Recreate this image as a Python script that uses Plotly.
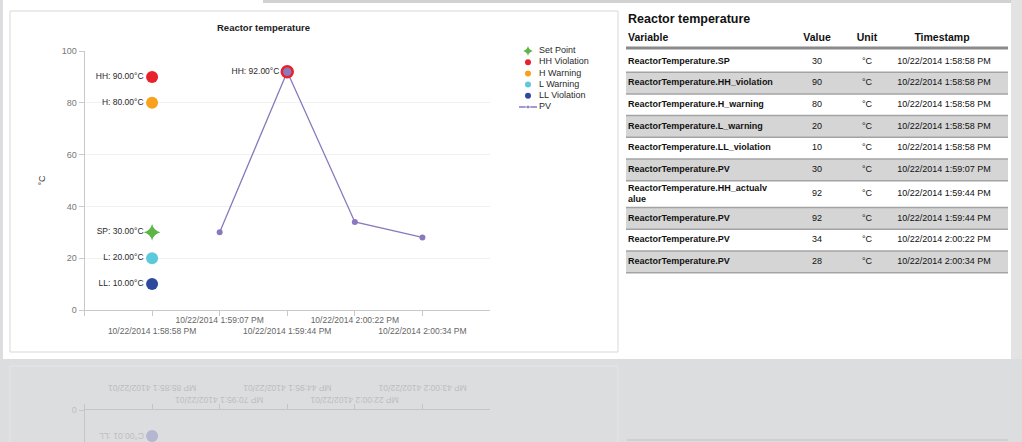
import plotly.graph_objects as go

W, H = 1022, 442
FONT = "Liberation Sans, Arial, sans-serif"

# ---------------- data ----------------
timestamps = [
    "10/22/2014 1:58:58 PM",
    "10/22/2014 1:59:07 PM",
    "10/22/2014 1:59:44 PM",
    "10/22/2014 2:00:22 PM",
    "10/22/2014 2:00:34 PM",
]
limit_keys = ["HH", "H", "SP", "L", "LL"]
limit_values = [90, 80, 30, 20, 10]
limit_time = "10/22/2014 1:58:58 PM"

pv_times = ["10/22/2014 1:59:07 PM", "10/22/2014 1:59:44 PM",
            "10/22/2014 2:00:22 PM", "10/22/2014 2:00:34 PM"]
pv_values = [30, 92, 34, 28]

hh_actual_time = "10/22/2014 1:59:44 PM"
hh_actual_value = 92

legend_labels = ["Set Point", "HH Violation", "H Warning", "L Warning", "LL Violation", "PV"]

table_title = "Reactor temperature"
table_headers = ["Variable", "Value", "Unit", "Timestamp"]
table_variables = [
    "ReactorTemperature.SP",
    "ReactorTemperature.HH_violation",
    "ReactorTemperature.H_warning",
    "ReactorTemperature.L_warning",
    "ReactorTemperature.LL_violation",
    "ReactorTemperature.PV",
    "ReactorTemperature.HH_actualv<br>alue",
    "ReactorTemperature.PV",
    "ReactorTemperature.PV",
    "ReactorTemperature.PV",
]
table_values = [30, 90, 80, 20, 10, 30, 92, 92, 34, 28]
table_units = ["°C"] * 10
table_timestamps = [
    "10/22/2014 1:58:58 PM", "10/22/2014 1:58:58 PM", "10/22/2014 1:58:58 PM",
    "10/22/2014 1:58:58 PM", "10/22/2014 1:58:58 PM", "10/22/2014 1:59:07 PM",
    "10/22/2014 1:59:44 PM", "10/22/2014 1:59:44 PM", "10/22/2014 2:00:22 PM",
    "10/22/2014 2:00:34 PM",
]

# ---------------- styles ----------------
limit_style = {
    "HH": dict(color="#e8222b", symbol="circle", size=12),
    "H": dict(color="#f7a11c", symbol="circle", size=12),
    "SP": dict(color="#5cb545", symbol="star-diamond", size=12),
    "L": dict(color="#5ccadb", symbol="circle", size=12),
    "LL": dict(color="#2d4a9f", symbol="circle", size=12),
}
legend_style = {
    "Set Point": dict(color="#5cb545", symbol="star-diamond", size=7),
    "HH Violation": dict(color="#e8222b", symbol="circle", size=6),
    "H Warning": dict(color="#f7a11c", symbol="circle", size=6),
    "L Warning": dict(color="#5ccadb", symbol="circle", size=6),
    "LL Violation": dict(color="#2d4a9f", symbol="circle", size=6),
}
PV_COLOR = "#8b79be"


def pxx(x):
    return x / W


def pxy(y):
    return 1 - y / H


def tindex(t):
    return timestamps.index(t)


fig = go.Figure()

# ---------------- main chart (x, y) ----------------
for k, v in zip(limit_keys, limit_values):
    st = limit_style[k]
    fig.add_trace(go.Scatter(
        x=[tindex(limit_time)], y=[v], mode="markers+text",
        marker=dict(color=st["color"], symbol=st["symbol"], size=st["size"], line=dict(width=0)),
        text=[f"{k}: {v:.2f}°C"], textposition="middle left",
        textfont=dict(size=8.5, color="#2a2a2a", family=FONT),
        showlegend=False, hoverinfo="skip", xaxis="x", yaxis="y"))

fig.add_trace(go.Scatter(
    x=[tindex(t) for t in pv_times], y=pv_values, mode="lines+markers",
    line=dict(color=PV_COLOR, width=1.3), marker=dict(color=PV_COLOR, size=6),
    showlegend=False, hoverinfo="skip", xaxis="x", yaxis="y"))

fig.add_trace(go.Scatter(
    x=[tindex(hh_actual_time)], y=[hh_actual_value], mode="markers+text",
    marker=dict(color=PV_COLOR, size=11, line=dict(color="#e8222b", width=2.5)),
    text=[f"HH: {hh_actual_value:.2f}°C"], textposition="middle left",
    textfont=dict(size=8.5, color="#2a2a2a", family=FONT),
    showlegend=False, hoverinfo="skip", xaxis="x", yaxis="y"))

# ---------------- reflection (x2, y2) ----------------
for k, v in zip(limit_keys, limit_values):
    fig.add_trace(go.Scatter(
        x=[tindex(limit_time)], y=[v], mode="markers",
        marker=dict(color="#b4b6d2", size=12, symbol=limit_style[k]["symbol"]),
        showlegend=False, hoverinfo="skip", xaxis="x2", yaxis="y2"))

# ---------------- legend (x3, y3) ----------------
for i, name in enumerate(legend_labels):
    if name == "PV":
        fig.add_trace(go.Scatter(
            x=[519, 528, 537], y=[i, i, i], mode="lines+markers",
            line=dict(color=PV_COLOR, width=1.5),
            marker=dict(color=PV_COLOR, size=[0, 4, 0]),
            showlegend=False, hoverinfo="skip", xaxis="x3", yaxis="y3"))
    else:
        st = legend_style[name]
        fig.add_trace(go.Scatter(
            x=[528], y=[i], mode="markers",
            marker=dict(color=st["color"], symbol=st["symbol"], size=st["size"]),
            showlegend=False, hoverinfo="skip", xaxis="x3", yaxis="y3"))
fig.add_trace(go.Scatter(
    x=[539] * len(legend_labels), y=list(range(len(legend_labels))), mode="text",
    text=legend_labels, textposition="middle right",
    textfont=dict(size=9, color="#2a2a2a", family=FONT),
    showlegend=False, hoverinfo="skip", xaxis="x3", yaxis="y3"))

# ---------------- table (x4, y4) ----------------
ROW_H = 21.7
TABLE_TOP = 50.5
T_X0, T_X1 = 626, 1008


def u(ypx):
    return (ypx - TABLE_TOP) / ROW_H


heights = [1 + 0.24 * v.count("<br>") for v in table_variables]
tops = []
acc = 0
for h in heights:
    tops.append(acc)
    acc += h
centers = [t + h / 2 for t, h in zip(tops, heights)]
fills = ["#ffffff" if i % 2 == 0 else "#d5d5d5" for i in range(len(table_variables))]

fig.add_trace(go.Bar(
    y=centers, x=[T_X1 - T_X0] * len(centers), base=[T_X0] * len(centers),
    width=heights, orientation="h", marker=dict(color=fills, line=dict(width=0)),
    showlegend=False, hoverinfo="skip", xaxis="x4", yaxis="y4"))

COLS = {"var": 628, "val": 817, "unit": 867, "ts": 944}
fig.add_trace(go.Scatter(
    x=[COLS["var"]] * len(centers), y=centers, mode="text", text=table_variables,
    textposition="middle right",
    textfont=dict(size=9, color="#111111", family=FONT, weight="bold"),
    showlegend=False, hoverinfo="skip", xaxis="x4", yaxis="y4"))
for key, vals in (("val", [str(v) for v in table_values]), ("unit", table_units), ("ts", table_timestamps)):
    fig.add_trace(go.Scatter(
        x=[COLS[key]] * len(centers), y=centers, mode="text", text=vals,
        textposition="middle center",
        textfont=dict(size=9, color="#111111", family=FONT),
        showlegend=False, hoverinfo="skip", xaxis="x4", yaxis="y4"))

# header + title
fig.add_trace(go.Scatter(
    x=[COLS["var"]], y=[u(38.5)], mode="text", text=[table_headers[0]],
    textposition="middle right",
    textfont=dict(size=10.5, color="#111111", family=FONT, weight="bold"),
    showlegend=False, hoverinfo="skip", xaxis="x4", yaxis="y4"))
fig.add_trace(go.Scatter(
    x=[COLS["val"], COLS["unit"], 942], y=[u(38.5)] * 3, mode="text", text=table_headers[1:],
    textposition="middle center",
    textfont=dict(size=10.5, color="#111111", family=FONT, weight="bold"),
    showlegend=False, hoverinfo="skip", xaxis="x4", yaxis="y4"))
fig.add_trace(go.Scatter(
    x=[COLS["var"]], y=[u(19.5)], mode="text", text=[table_title],
    textposition="middle right",
    textfont=dict(size=12.5, color="#111111", family=FONT, weight="bold"),
    showlegend=False, hoverinfo="skip", xaxis="x4", yaxis="y4"))

# ---------------- shapes ----------------
shapes = [
    dict(type="rect", xref="paper", yref="paper", x0=pxx(3), x1=pxx(1011), y0=pxy(359), y1=pxy(0),
         fillcolor="#ffffff", line=dict(width=0), layer="below"),
    dict(type="rect", xref="paper", yref="paper", x0=pxx(263), x1=1, y0=pxy(3), y1=1,
         fillcolor="#d2d2d2", line=dict(width=0), layer="below"),
    dict(type="rect", xref="paper", yref="paper", x0=pxx(1011), x1=1, y0=pxy(359), y1=1,
         fillcolor="#e3e3e3", line=dict(width=0), layer="below"),
    dict(type="rect", xref="paper", yref="paper", x0=pxx(10), x1=pxx(618), y0=pxy(352), y1=pxy(11),
         fillcolor="#ffffff", line=dict(color="#d8d8d8", width=1), layer="below"),
    dict(type="rect", xref="paper", yref="paper", x0=pxx(10), x1=pxx(618), y0=pxy(446), y1=pxy(366),
         fillcolor="rgba(0,0,0,0)", line=dict(color="#e6e6e8", width=1), layer="below"),
    dict(type="line", xref="paper", yref="paper", x0=pxx(627), x1=pxx(1008), y0=pxy(440), y1=pxy(440),
         line=dict(color="#cfd0d2", width=2), layer="below"),
    # table header rule
    dict(type="line", xref="x4", yref="y4", x0=T_X0, x1=T_X1, y0=u(48), y1=u(48),
         line=dict(color="#8a8a8a", width=3), layer="above"),
]
for t, h in zip(tops, heights):
    shapes.append(dict(type="line", xref="x4", yref="y4", x0=T_X0, x1=T_X1, y0=t + h, y1=t + h,
                       line=dict(color="#a3a3a3", width=1.5), layer="above"))

# ---------------- annotations ----------------
annotations = [
    dict(text="<b>Reactor temperature</b>", x=pxx(263), y=pxy(27), xref="paper", yref="paper",
         xanchor="center", yanchor="middle",
         showarrow=False, font=dict(size=9.5, color="#222222", family=FONT)),
]
# mirrored tick labels in the reflection
for i, t in enumerate(timestamps):
    ypos = 388 if i % 2 == 0 else 400
    annotations.append(dict(text=t[::-1], x=i, xref="x2", y=pxy(ypos), yref="paper",
                            xanchor="center", yanchor="middle",
                            textangle=180, showarrow=False,
                            font=dict(size=8.5, color="#bcbdc0", family=FONT)))
ll_idx = limit_keys.index("LL")
annotations.append(dict(text=f"{limit_keys[ll_idx]}: {limit_values[ll_idx]:.2f}°C"[::-1],
                        x=pxx(122), xref="paper", y=pxy(436), yref="paper", textangle=180,
                        xanchor="center", yanchor="middle",
                        showarrow=False, font=dict(size=8.5, color="#bcbdc0", family=FONT)))

# ---------------- layout ----------------
tick_idx = list(range(-1, len(timestamps)))
tick_txt = [""] + [("<br>" + t) if i % 2 == 0 else t for i, t in enumerate(timestamps)]

AX = "#c9c9c9"
fig.update_layout(
    width=W, height=H, autosize=False, margin=dict(l=0, r=0, t=0, b=0, pad=0),
    paper_bgcolor="#dcdddf", plot_bgcolor="rgba(0,0,0,0)",
    font=dict(family=FONT), showlegend=False, barmode="overlay",
    xaxis=dict(domain=[pxx(84.5), pxx(490)], range=[-1, 5], anchor="y",
               tickmode="array", tickvals=tick_idx, ticktext=tick_txt, tickangle=0,
               ticklabelstandoff=-3,
               showline=True, linecolor=AX, linewidth=1, ticks="outside", ticklen=5,
               tickcolor=AX, showgrid=False, zeroline=False, automargin=False,
               tickfont=dict(size=8.5, color="#666666", family=FONT), fixedrange=True),
    yaxis=dict(domain=[pxy(310), pxy(51)], range=[0, 100], anchor="x",
               tickmode="array", tickvals=[0, 20, 40, 60, 80, 100],
               showline=True, linecolor=AX, linewidth=1, ticks="outside", ticklen=5,
               tickcolor=AX, gridcolor="#f1f1f1", zeroline=False, automargin=False,
               tickfont=dict(size=9, color="#777777", family=FONT),
               title=dict(text="°C", font=dict(size=9, color="#333333", family=FONT), standoff=14)),
    xaxis2=dict(domain=[pxx(84.5), pxx(490)], range=[-1, 5], anchor="y2", side="top",
                tickmode="array", tickvals=tick_idx, showticklabels=False,
                showline=True, linecolor="#c4c5c8", ticks="outside", ticklen=5,
                tickcolor="#c4c5c8", showgrid=False, zeroline=False, automargin=False),
    yaxis2=dict(domain=[0, pxy(410)], range=[(H - 410) / 2.59, 0], anchor="x2",
                tickmode="array", tickvals=[0], showline=True, linecolor="#c4c5c8",
                ticks="outside", ticklen=5, tickcolor="#c4c5c8", showgrid=False, zeroline=False,
                automargin=False, tickfont=dict(size=9, color="#bdbec1", family=FONT)),
    xaxis3=dict(domain=[pxx(510), pxx(610)], range=[510, 610], anchor="y3", visible=False),
    yaxis3=dict(domain=[pxy(112.6), pxy(45.4)], range=[5.5, -0.5], anchor="x3", visible=False),
    xaxis4=dict(domain=[pxx(T_X0), pxx(T_X1)], range=[T_X0, T_X1], anchor="y4", visible=False),
    yaxis4=dict(domain=[pxy(285), pxy(5)], range=[u(285), u(5)], anchor="x4", visible=False),
    shapes=shapes, annotations=annotations,
)

fig.write_html("out.html",
               config={"displayModeBar": False, "responsive": False},
               post_script="document.body.style.margin='0';document.body.style.overflow='hidden';")
